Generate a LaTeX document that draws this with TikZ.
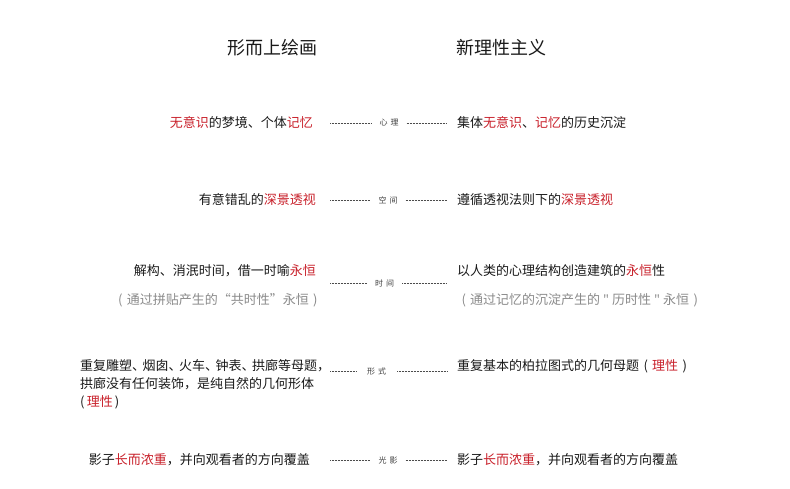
\documentclass[tikz,border=0pt]{standalone}
\usepackage{fontspec}
\setmainfont{Noto Sans CJK SC}
\usepackage{xcolor}
\definecolor{accred}{HTML}{C8202A}
\definecolor{inkgray}{HTML}{8A8A8A}
\usepackage{tikz}
\usetikzlibrary{positioning}
\tikzset{
  ttl/.style ={inner sep=0pt, font=\fontsize{18}{18}\selectfont, text=black!90},
  ltxt/.style={inner sep=0pt, anchor=east, font=\fontsize{13}{18}\selectfont, text=black!90},
  rtxt/.style={inner sep=0pt, anchor=west, font=\fontsize{13}{18}\selectfont, text=black!90},
  note/.style={text=inkgray},
  mid/.style ={inner ysep=0pt, inner xsep=8pt, font=\fontsize{8}{8}\selectfont, text=black!75},
  dotl/.style={line width=0.6pt, dash pattern=on 0.6pt off 0.9pt, black!70},
}
\newcommand{\hl}[1]{\textcolor{accred}{#1}}
\newcommand{\midgap}{\hspace{3pt}}
\newcommand{\lp}{\makebox[1em]{(}}
\newcommand{\rp}{\makebox[1em]{)}}
\newcommand{\dun}{、\kern-2.5pt}
\newcommand{\sq}{\makebox[12pt]{\fontsize{11}{11}\selectfont ＂}}

\begin{document}
\begin{tikzpicture}[x=1pt,y=-1pt]
  \useasboundingbox (0,0) rectangle (790,488);
  % titles
  \node[ttl, anchor=east] (tl) at (318,48) {形而上绘画};
  \node[ttl, anchor=west] (tr) at (456,48) {新理性主义};
  % row 1
  \node[ltxt] (l1) at (313,123) {\hl{无意识}的梦境、个体\hl{记忆}};
  \node[mid]  (m1) at (389,123) {心\midgap 理};
  \node[rtxt] (r1) at (457,123) {集体\hl{无意识}、\hl{记忆}的历史沉淀};
  \coordinate (a1) at (330,123);
  \coordinate (b1) at (447,123);
  \draw[dotl] (a1) -- (m1.west);
  \draw[dotl] (m1.east) -- (b1);
  % row 2
  \node[ltxt] (l2) at (316,200) {有意错乱的\hl{深景透视}};
  \node[mid]  (m2) at (388,200) {空\midgap 间};
  \node[rtxt] (r2) at (457,200) {遵循透视法则下的\hl{深景透视}};
  \coordinate (a2) at (330,200);
  \coordinate (b2) at (447,200);
  \draw[dotl] (a2) -- (m2.west);
  \draw[dotl] (m2.east) -- (b2);
  % row 3
  \node[ltxt] (l3) at (316,271) {解构、消泯时间，借一时喻\hl{永恒}};
  \node[ltxt, note] (l3n) at (322,300) {\lp 通过拼贴产生的“共时性”永恒\rp};
  \node[mid]  (m3) at (384.5,283) {时\midgap 间};
  \node[rtxt] (r3) at (457,271) {以人类的心理结构创造建筑的\hl{永恒}性};
  \node[rtxt, note] (r3n) at (457,300) {\lp 通过记忆的沉淀产生的\sq 历时性\sq 永恒\rp};
  \coordinate (a3) at (330,283);
  \coordinate (b3) at (447,283);
  \draw[dotl] (a3) -- (m3.west);
  \draw[dotl] (m3.east) -- (b3);
  % row 4
  \node[ltxt, anchor=north west, align=left] (l4) at (80,359.6)
    {重复雕塑\dun 烟囱\dun 火车\dun 钟表\dun 拱廊等母题，\\拱廊没有任何装饰，是纯自然的几何形体\\(\,\hl{理性}\,)};
  \node[mid, inner xsep=11pt] (m4) at (376.5,371) {形\midgap 式};
  \node[rtxt] (r4) at (457,366) {重复基本的柏拉图式的几何母题\lp\hl{理性}\rp};
  \coordinate (a4) at (330,371);
  \coordinate (b4) at (448,371);
  \draw[dotl] (a4) -- (m4.west);
  \draw[dotl] (m4.east) -- (b4);
  % row 5
  \node[ltxt] (l5) at (310,460) {影子\hl{长而浓重}，并向观看者的方向覆盖};
  \node[mid]  (m5) at (388,460) {光\midgap 影};
  \node[rtxt] (r5) at (457,460) {影子\hl{长而浓重}，并向观看者的方向覆盖};
  \coordinate (a5) at (330,460);
  \coordinate (b5) at (447,460);
  \draw[dotl] (a5) -- (m5.west);
  \draw[dotl] (m5.east) -- (b5);
\end{tikzpicture}
\end{document}
